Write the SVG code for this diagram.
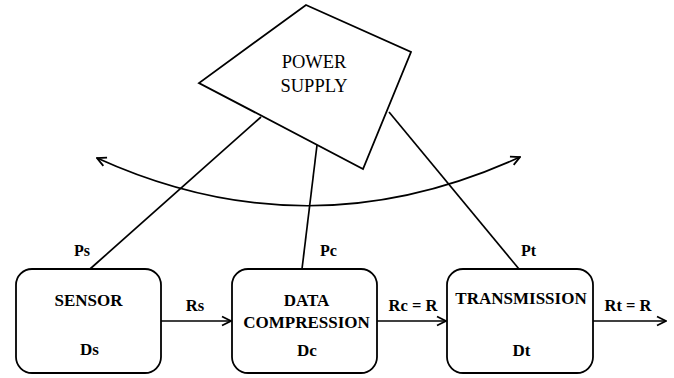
<svg xmlns="http://www.w3.org/2000/svg" width="674" height="378" viewBox="0 0 674 378">
  <style>
    .shape { fill: #fff; stroke: #000; stroke-width: 1.8; }
    .line { fill: none; stroke: #000; stroke-width: 1.7; }
    text { font-family: 'Liberation Serif', 'DejaVu Serif', serif; fill: #000; text-anchor: middle; }
    .lbl { font-weight: bold; font-size: 17px; }
    .pw { font-weight: bold; font-size: 16px; }
    .rate { font-weight: bold; font-size: 16.5px; }
    .ps { font-size: 18.5px; }
  </style>
  <defs>
    <marker id="head" viewBox="0 0 12 12" refX="11" refY="6" markerWidth="12" markerHeight="12" markerUnits="userSpaceOnUse" orient="auto-start-reverse">
      <path d="M2,1.5 L11,6 L2,10.5" fill="none" stroke="#000" stroke-width="1.8"/>
    </marker>
  </defs>

  <g id="connectors">
    <!-- power feeds -->
    <line class="line" x1="261" y1="117" x2="90" y2="269"/>
    <line class="line" x1="317" y1="145" x2="302" y2="269"/>
    <line class="line" x1="389" y1="112" x2="519" y2="269"/>
    <!-- trade-off arc -->
    <path class="line" d="M97,158 Q308,254 520,157" marker-start="url(#head)" marker-end="url(#head)"/>
    <!-- data flow -->
    <line class="line" x1="161" y1="321" x2="231" y2="321" marker-end="url(#head)"/>
    <line class="line" x1="377" y1="321" x2="446" y2="321" marker-end="url(#head)"/>
    <line class="line" x1="593" y1="321" x2="666" y2="321" marker-end="url(#head)"/>
    <text class="pw" x="82" y="256">Ps</text>
    <text class="pw" x="328.5" y="256">Pc</text>
    <text class="pw" x="528.5" y="256">Pt</text>
    <text class="rate" x="195" y="311">Rs</text>
    <text class="rate" x="413" y="311">Rc = R</text>
    <text class="rate" x="628" y="311">Rt = R</text>
  </g>

  <g id="power-supply">
    <polygon class="shape" points="306,5 411,52 363,169 199,83"/>
    <text class="ps" x="314" y="68">POWER</text>
    <text class="ps" x="314" y="92">SUPPLY</text>
  </g>

  <g id="sensor">
    <rect class="shape" x="16" y="269" width="145" height="104" rx="16"/>
    <text class="lbl" x="88.5" y="305.5">SENSOR</text>
    <text class="lbl" x="89.5" y="355">Ds</text>
  </g>

  <g id="data-compression">
    <rect class="shape" x="232" y="269" width="145" height="104" rx="16"/>
    <text class="lbl" x="306.5" y="305.5">DATA</text>
    <text class="lbl" x="306.5" y="327.5">COMPRESSION</text>
    <text class="lbl" x="307" y="356">Dc</text>
  </g>

  <g id="transmission">
    <rect class="shape" x="447" y="269" width="146" height="104" rx="16"/>
    <text class="lbl" x="521" y="304">TRANSMISSION</text>
    <text class="lbl" x="521.5" y="355.5">Dt</text>
  </g>
</svg>
